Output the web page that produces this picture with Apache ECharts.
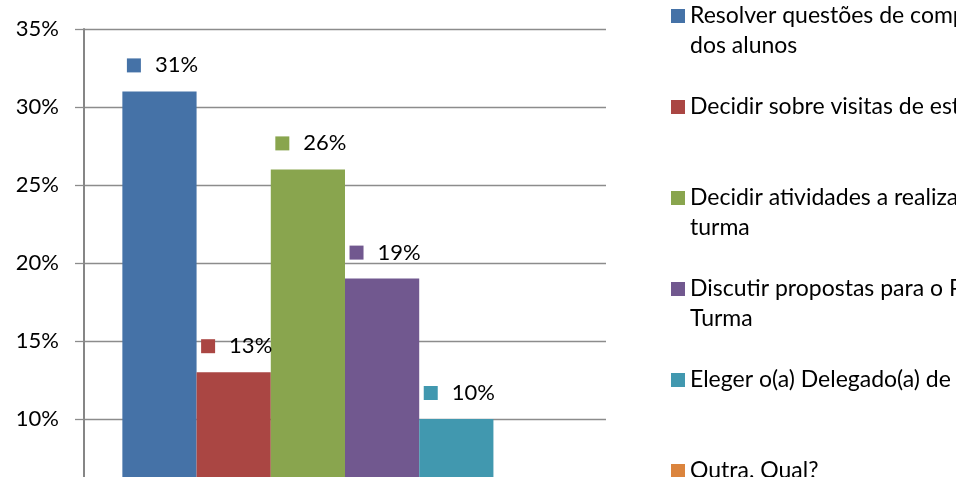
<!DOCTYPE html>
<html>
<head>
<meta charset="utf-8">
<script src="https://cdn.jsdelivr.net/npm/echarts@6/dist/echarts.min.js"></script>
<style>
html,body{margin:0;padding:0;background:#fff;}
#chart{width:956px;height:477px;}
</style>
</head>
<body>
<div id="chart"></div>
<script>
// Data
const seriesNames = [
  "Resolver questões de comportamento\ndos alunos",
  "Decidir sobre visitas de estudo",
  "Decidir atividades a realizar na\nturma",
  "Discutir propostas para o Plano de\nTurma",
  "Eleger o(a) Delegado(a) de Turma",
  "Outra. Qual?"
];
const values = [31, 13, 26, 19, 10, 0];
const colors = ["#4572A7", "#AA4643", "#89A54E", "#71588F", "#4198AF", "#DB843D"];
const categories = [""];
const yTicks = { min: 0, max: 35, interval: 5 };

const FONT = "Lato";

const series = seriesNames.map((name, i) => ({
  name: name,
  type: "bar",
  data: [values[i]],
  barGap: "0%",
  barCategoryGap: "14.7%",
  itemStyle: { color: colors[i] },
  label: {
    show: true,
    position: "top",
    distance: 15,
    offset: [3, 0],
    formatter: p => "{sq|}{gap|}{v|" + p.value + "%}",
    rich: {
      sq: { width: 14, height: 14, backgroundColor: colors[i] },
      gap: { width: 14 },
      v: { fontFamily: FONT, fontSize: 22, color: "#000" }
    }
  }
}));

const chart = echarts.init(document.getElementById("chart"), null, { renderer: "canvas" });
chart.setOption({
  animation: false,
  backgroundColor: "#fff",
  grid: { left: 84, top: 29, width: 522, height: 546, containLabel: false, outerBoundsMode: "none" },
  xAxis: {
    type: "category",
    data: categories,
    axisLine: { show: false },
    axisTick: { show: false },
    axisLabel: { show: false }
  },
  yAxis: {
    type: "value",
    min: yTicks.min,
    max: yTicks.max,
    interval: yTicks.interval,
    axisLine: { show: true, lineStyle: { color: "#868686", width: 2 } },
    axisTick: { show: true, length: 9, lineStyle: { color: "#8c8c8c", width: 1.3 } },
    axisLabel: {
      formatter: "{value}%",
      fontFamily: FONT,
      fontSize: 22,
      color: "#000",
      margin: 25
    },
    splitLine: { show: true, lineStyle: { color: "#8c8c8c", width: 1.3 } }
  },
  legend: {
    orient: "vertical",
    left: 671,
    top: -29,
    height: 700,
    padding: 0,
    itemGap: 1,
    itemWidth: 14,
    itemHeight: 14,
    icon: "rect",
    data: seriesNames,
    formatter: name => name.indexOf("\n") >= 0 ? "\n" + name : "\n" + name + "\n",
    textStyle: { fontFamily: FONT, fontSize: 23, lineHeight: 30, color: "#000" }
  },
  series: series
});
</script>
</body>
</html>
